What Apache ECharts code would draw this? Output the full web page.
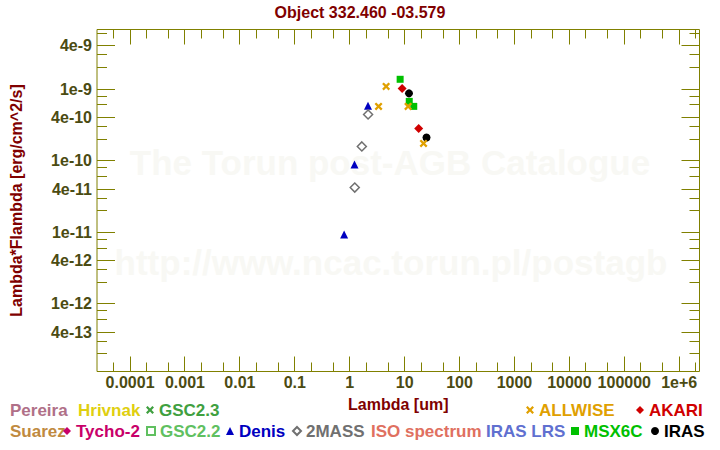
<!DOCTYPE html>
<html><head><meta charset="utf-8">
<script src="https://cdn.jsdelivr.net/npm/echarts@6/dist/echarts.min.js"></script>
<style>html,body{margin:0;padding:0;background:#fff}#c{width:720px;height:450px}</style>
</head><body><div id="c"></div>
<script>
// ---- data (wavelength in um, lambda*F_lambda in erg/cm^2/s) ----
const denisX = [0.79, 1.22, 2.15];
const denisY = [9.25e-12, 8.83e-11, 5.84e-10];
const twomassX = [1.235, 1.662, 2.159];
const twomassY = [4.2e-11, 1.58e-10, 4.42e-10];
const allwiseX = [3.35, 4.6, 11.56, 22.08];
const allwiseY = [5.73e-10, 1.09e-9, 5.73e-10, 1.74e-10];
const akariX = [9, 18];
const akariY = [1.02e-9, 2.82e-10];
const msxX = [8.28, 12.13, 14.65];
const msxY = [1.37e-9, 6.73e-10, 5.73e-10];
const irasX = [12, 25];
const irasY = [8.71e-10, 2.11e-10];

// ---- axes ----
const X_MIN = 2.5e-5, X_MAX = 2.34e6;
const Y_MIN = 1.13e-13, Y_MAX = 6.8e-9;
const xMajorTicks = [1e-4, 1e-3, 1e-2, 1e-1, 1, 10, 100, 1000, 1e4, 1e5, 1e6];
const xTickLabels = ['0.0001', '0.001', '0.01', '0.1', '1', '10', '100', '1000', '10000', '100000', '1e+6'];
const xMinorMant = [2, 5];
const yMajorTicks = [4e-13, 1e-12, 4e-12, 1e-11, 4e-11, 1e-10, 4e-10, 1e-9, 4e-9];
const yTickLabels = ['4e-13', '1e-12', '4e-12', '1e-11', '4e-11', '1e-10', '4e-10', '1e-9', '4e-9'];
const yMinorMant = [2, 3, 6, 8];

const AXIS = '#808000', LABEL = '#4b4b12', DARKRED = '#800000';
const FONT = '"Liberation Sans", Arial, sans-serif';

function minorTicks(mants, lo, hi) {
  const out = [];
  for (let e = Math.floor(Math.log10(lo)) - 1; e <= Math.ceil(Math.log10(hi)); e++) {
    mants.forEach(m => { const v = m * Math.pow(10, e); if (v > lo && v < hi) out.push(v); });
  }
  return out;
}
const xTicks = xMajorTicks.map((v, i) => ({v, major: true, label: xTickLabels[i]}))
  .concat(minorTicks(xMinorMant, X_MIN, X_MAX).map(v => ({v, major: false})));
const yTicks = yMajorTicks.map((v, i) => ({v, major: true, label: yTickLabels[i]}))
  .concat(minorTicks(yMinorMant, Y_MIN, Y_MAX).map(v => ({v, major: false})));

function px(v) { return Math.floor(v) + 0.5; }

function renderXTick(params, api) {
  const t = xTicks[params.dataIndex];
  const pB = api.coord([t.v, Y_MIN]);
  const pT = api.coord([t.v, Y_MAX]);
  const x = px(pB[0]);
  const len = t.major ? 15 : 9;
  const ch = [
    {type: 'line', shape: {x1: x, y1: pB[1], x2: x, y2: pB[1] - len}, style: {stroke: AXIS, lineWidth: 1}},
    {type: 'line', shape: {x1: x, y1: pT[1], x2: x, y2: pT[1] + len}, style: {stroke: AXIS, lineWidth: 1}}
  ];
  if (t.label) ch.push({type: 'text', style: {text: t.label, x: pB[0], y: pB[1] + 11, align: 'center', verticalAlign: 'middle', fill: LABEL, font: 'bold 16px ' + FONT}});
  return {type: 'group', children: ch};
}
function renderYTick(params, api) {
  const t = yTicks[params.dataIndex];
  const pL = api.coord([X_MIN, t.v]);
  const pR = api.coord([X_MAX, t.v]);
  const y = px(pL[1]);
  const len = t.major ? 18 : 10;
  const ch = [
    {type: 'line', shape: {x1: pL[0], y1: y, x2: pL[0] + len, y2: y}, style: {stroke: AXIS, lineWidth: 1}},
    {type: 'line', shape: {x1: pR[0], y1: y, x2: pR[0] - len, y2: y}, style: {stroke: AXIS, lineWidth: 1}}
  ];
  if (t.label) ch.push({type: 'text', style: {text: t.label, x: pL[0] - 5, y: pL[1], align: 'right', verticalAlign: 'middle', fill: LABEL, font: 'bold 16px ' + FONT}});
  return {type: 'group', children: ch};
}

const XSYM = 'path://M0,2 L2,0 L5,3 L8,0 L10,2 L7,5 L10,8 L8,10 L5,7 L2,10 L0,8 L3,5 Z';
const pairs = (xs, ys) => xs.map((x, i) => [x, ys[i]]);

const seriesDefs = [
  {name: 'Pereira', color: '#b07088', symbol: 'none', data: []},
  {name: 'Hrivnak', color: '#e0cf10', symbol: 'none', data: []},
  {name: 'GSC2.3', color: '#40a040', symbol: XSYM, data: []},
  {name: 'Suarez', color: '#c08a40', symbol: 'none', data: []},
  {name: 'Tycho-2', color: '#c8006a', symbol: 'diamond', data: []},
  {name: 'GSC2.2', color: '#60c060', symbol: 'rect', hollow: true, data: []},
  {name: 'ISO spectrum', color: '#e07060', symbol: 'none', data: []},
  {name: 'IRAS LRS', color: '#6070d0', symbol: 'none', data: []},
  {name: 'Denis', color: '#0000c0', symbol: 'triangle', size: 8, data: pairs(denisX, denisY)},
  {name: '2MASS', color: '#707070', symbol: 'diamond', hollow: true, size: 9, data: pairs(twomassX, twomassY)},
  {name: 'MSX6C', color: '#00c000', symbol: 'rect', size: 7, data: pairs(msxX, msxY)},
  {name: 'AKARI', color: '#d00000', symbol: 'diamond', size: 9, data: pairs(akariX, akariY)},
  {name: 'IRAS', color: '#000000', symbol: 'circle', size: 8, data: pairs(irasX, irasY)},
  {name: 'ALLWISE', color: '#e0a000', symbol: XSYM, size: 8, data: pairs(allwiseX, allwiseY)}
];

const series = seriesDefs.map(d => ({
  name: d.name, type: 'scatter', data: d.data,
  symbol: d.symbol, symbolSize: d.size || 8,
  itemStyle: d.hollow ? {color: '#ffffff', borderColor: d.color, borderWidth: 1.5, opacity: 1} : {color: d.color, opacity: 1},
  emphasis: {disabled: true}, silent: true
}));
series.push({type: 'custom', silent: true, data: xTicks.map(t => [t.v, Y_MIN]), renderItem: renderXTick, z: 3});
series.push({type: 'custom', silent: true, data: yTicks.map(t => [X_MIN, t.v]), renderItem: renderYTick, z: 3});

const legendPos = {
  'Pereira': [5, 0, 0], 'Hrivnak': [73, 0, 0], 'GSC2.3': [146, 0, 8], 'ALLWISE': [526, 0, 8], 'AKARI': [636, 0, 8],
  'Suarez': [5, 1, 0], 'Tycho-2': [63, 1, 8], 'GSC2.2': [146, 1, 8], 'Denis': [226, 1, 8], '2MASS': [292, 1, 8],
  'ISO spectrum': [366, 1, 0], 'IRAS LRS': [481, 1, 0], 'MSX6C': [571, 1, 8], 'IRAS': [651, 1, 8]
};
const rowTop = [401, 422];
const legends = seriesDefs.map(d => {
  const p = legendPos[d.name];
  const lg = {
    left: p[0], top: rowTop[p[1]], padding: 0, orient: 'horizontal',
    itemWidth: p[2], itemHeight: p[2] || 8, selectedMode: false,
    data: [{name: d.name, textStyle: {color: d.color}}],
    textStyle: {fontFamily: FONT, fontWeight: 'bold', fontSize: 17, lineHeight: 18}
  };
  if (!p[2]) lg.icon = 'none';
  return lg;
});

const chart = echarts.init(document.getElementById('c'), null, {renderer: 'svg'});
chart.setOption({
  animation: false,
  backgroundColor: '#ffffff',
  title: {text: 'Object 332.460 -03.579', left: 'center', top: 4, padding: 0,
    textStyle: {color: DARKRED, fontFamily: FONT, fontWeight: 'bold', fontSize: 16}},
  grid: {left: 92.5, right: 20.5, top: 29.5, bottom: 78.5, show: true, borderColor: AXIS, borderWidth: 1, backgroundColor: 'transparent'},
  graphic: [
    {type: 'text', style: {text: 'The Torun post-AGB Catalogue', x: 0, y: 0, align: 'center', verticalAlign: 'middle', fill: '#f8f8f4', font: 'bold 35px ' + FONT}, x: 390, y: 162, z: -10, silent: true},
    {type: 'text', style: {text: 'http://www.ncac.torun.pl/postagb', x: 0, y: 0, align: 'center', verticalAlign: 'middle', fill: '#f8f8f4', font: 'bold 35px ' + FONT}, x: 391, y: 262, z: -10, silent: true}
  ],
  legend: legends,
  xAxis: {type: 'log', logBase: 10, min: X_MIN, max: X_MAX,
    axisLine: {show: false}, axisTick: {show: false}, axisLabel: {show: false}, splitLine: {show: false},
    name: 'Lambda [um]', nameLocation: 'middle', nameGap: 25,
    nameTextStyle: {color: DARKRED, fontFamily: FONT, fontWeight: 'bold', fontSize: 16}},
  yAxis: {type: 'log', logBase: 10, min: Y_MIN, max: Y_MAX,
    axisLine: {show: false}, axisTick: {show: false}, axisLabel: {show: false}, splitLine: {show: false},
    name: 'Lambda*Flambda [erg/cm^2/s]', nameLocation: 'middle', nameGap: 73,
    nameTextStyle: {color: DARKRED, fontFamily: FONT, fontWeight: 'bold', fontSize: 16}},
  series: series
});
</script></body></html>
